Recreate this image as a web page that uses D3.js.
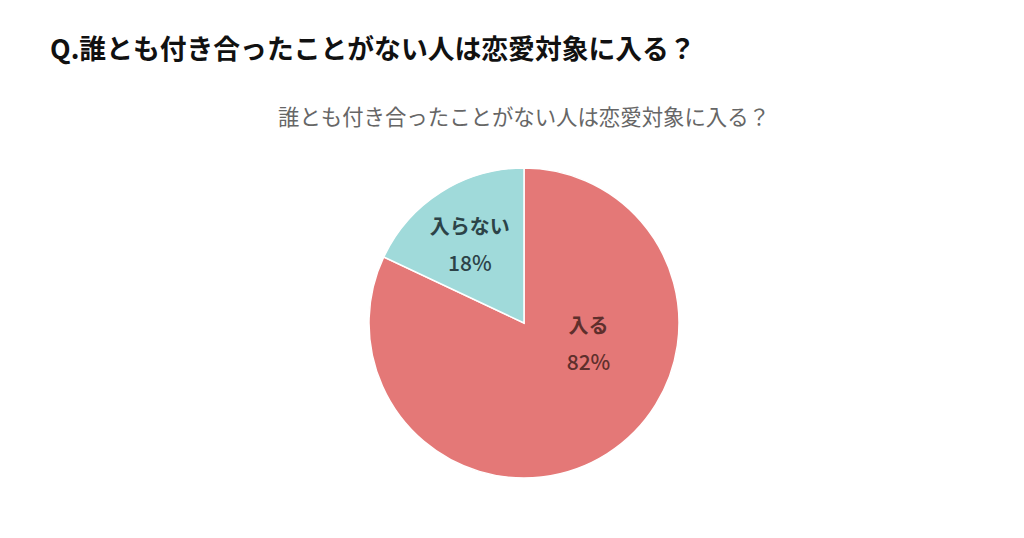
<!DOCTYPE html>
<html>
<head>
<meta charset="utf-8">
<script src="https://cdn.jsdelivr.net/npm/d3@7"></script>
<style>
body{margin:0;background:#fff;}
svg{display:block;font-family:"Noto Sans CJK JP","Noto Sans",sans-serif;}
</style>
</head>
<body>
<svg width="1024" height="538"></svg>
<script>
var categories=["入る","入らない"];
var values=[82,18];
var colours=["#e47877","#a0dada"];
var textColours=["#5e2f2c","#2c4348"];

var svg=d3.select("svg");

svg.append("text").attr("x",50).attr("y",59)
	.attr("font-size",26.8).attr("font-weight","bold").attr("fill","#111")
	.text("Q.誰とも付き合ったことがない人は恋愛対象に入る？");

svg.append("text").attr("x",524).attr("y",125).attr("text-anchor","middle")
	.attr("font-size",21.4).attr("fill","#666")
	.text("誰とも付き合ったことがない人は恋愛対象に入る？");

var cx=524,cy=323,radius=155;
var g=svg.append("g").attr("transform","translate("+cx+","+cy+")");

var data=categories.map(function(c,i){return {name:c,value:values[i],i:i};});
var pie=d3.pie().sort(null).value(function(d){return d.value;});
var arc=d3.arc().innerRadius(0).outerRadius(radius);
var arcs=pie(data);

g.selectAll("path").data(arcs).enter().append("path")
	.attr("d",arc)
	.attr("fill",function(d){return colours[d.data.i];})
	.attr("stroke","#fff").attr("stroke-width",1.5);

//label placement: radius fraction and angle (deg from top) per slice
var labelAt=[[0.44,109],[0.61,-35]];
var lab=g.selectAll(".lab").data(arcs).enter().append("g").attr("class","lab")
	.attr("transform",function(d){
		var p=labelAt[d.data.i],a=p[1]*Math.PI/180,r=p[0]*radius;
		return "translate("+(r*Math.sin(a))+","+(-r*Math.cos(a))+")";
	});
lab.append("text").attr("y",-12).attr("text-anchor","middle")
	.attr("font-size",20).attr("font-weight","bold")
	.attr("fill",function(d){return textColours[d.data.i];})
	.text(function(d){return d.data.name;});
lab.append("text").attr("y",25).attr("text-anchor","middle")
	.attr("font-size",21).attr("font-weight",500)
	.attr("fill",function(d){return textColours[d.data.i];})
	.text(function(d){return d.data.value+"%";});
</script>
</body>
</html>
